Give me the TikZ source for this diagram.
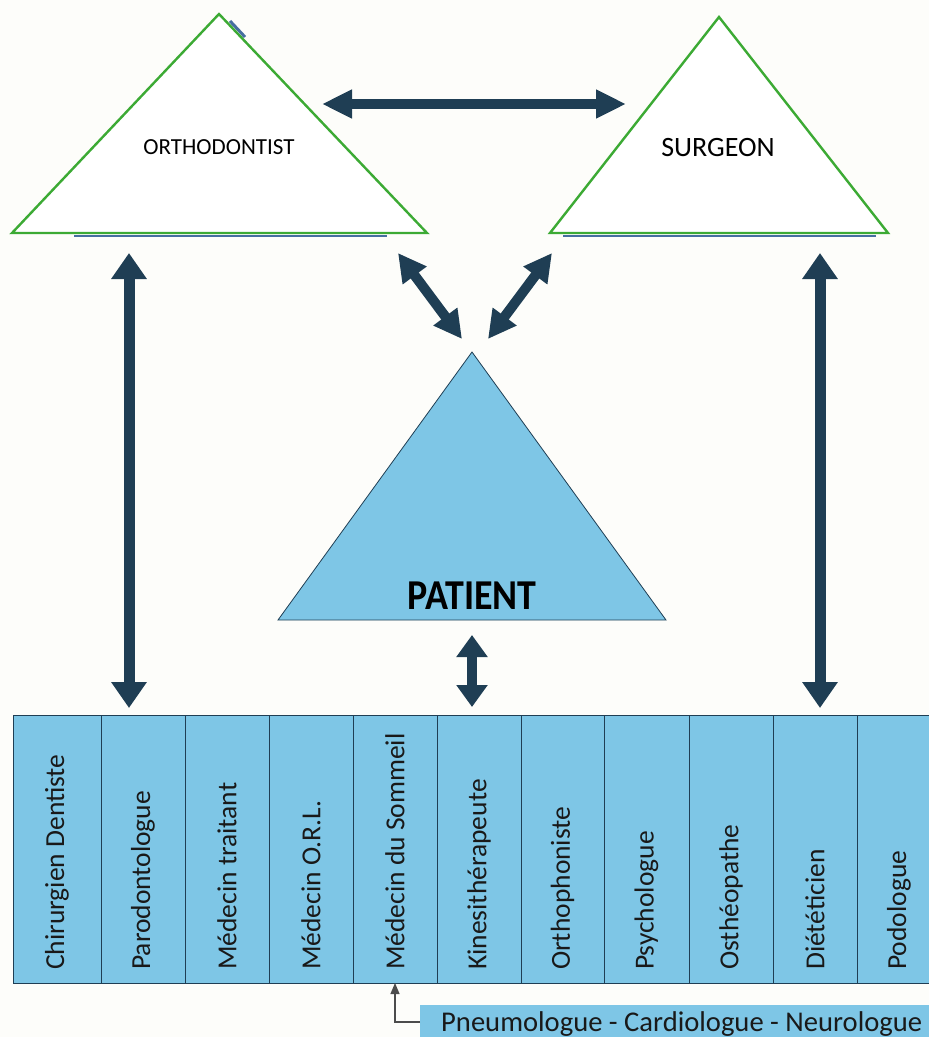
\documentclass[tikz,border=0pt]{standalone}
\usepackage{fontspec}
\setmainfont{Carlito}
\usetikzlibrary{arrows.meta}
\definecolor{bgc}{RGB}{253,253,250}
\definecolor{navy}{RGB}{31,62,84}
\definecolor{lblue}{RGB}{126,198,230}
\definecolor{tgreen}{RGB}{60,170,52}
\definecolor{sblue}{RGB}{70,110,160}
\tikzset{
  bigarrow/.style={navy, line width=11pt,
    arrows={Triangle[width=34pt,length=26pt]-Triangle[width=34pt,length=26pt]}},
  midarrow/.style={navy, line width=10pt,
    arrows={Triangle[width=28pt,length=28pt]-Triangle[width=28pt,length=28pt]}},
  tri/.style={fill=white, draw=tgreen, line width=2.4pt, line join=miter},
  cell/.style={fill=lblue, draw=navy, line width=0.8pt},
  celltext/.style={rotate=90, anchor=west, inner sep=0pt, font=\fontsize{27.5}{30}\selectfont, text=black!90},
}
\begin{document}
\begin{tikzpicture}[x=1pt,y=-1pt]
\fill[bgc] (0,0) rectangle (929,1037);
\useasboundingbox (0,0) rectangle (929,1037);

% shadows of top triangles
\draw[sblue, line width=1.8pt] (74,236) -- (387,236);
\draw[sblue, line width=3pt] (230,21) -- (245,37);
\draw[sblue, line width=1.8pt] (563,236) -- (876,236);

% top triangles
\draw[tri] (219,14) -- (427,233) -- (12,233) -- cycle;
\draw[tri] (719,17) -- (888,233) -- (550,233) -- cycle;
\node[font=\fontsize{23}{26}\selectfont] (ortho) at (219,147) {ORTHODONTIST};
\node[font=\fontsize{28}{30}\selectfont] (surg) at (718,148) {SURGEON};

% patient triangle
\draw[fill=lblue, draw=navy, line width=0.8pt] (472,352) -- (666,620) -- (278,620) -- cycle;
\node[font=\fontsize{38}{40}\bfseries\selectfont, anchor=base, yscale=1.12] (pat) at (472,609) {PATIENT};

% coordinates for arrows
\coordinate (hA) at (322,104);
\coordinate (hB) at (626,104);
\coordinate (lT) at (129,253);
\coordinate (lB) at (129,708);
\coordinate (rT) at (820,253);
\coordinate (rB) at (820,708);
\coordinate (d1a) at (398,253);
\coordinate (d1b) at (462,339);
\coordinate (d2a) at (552,253);
\coordinate (d2b) at (488,339);
\coordinate (pA) at (472,635);
\coordinate (pB) at (472,707);

\draw[midarrow, line width=10pt, arrows={Triangle[width=27pt,length=30pt]-Triangle[width=27pt,length=30pt]}] (hA) -- (hB);
\draw[bigarrow] (lT) -- (lB);
\draw[bigarrow] (rT) -- (rB);
\draw[midarrow] (d1a) -- (d1b);
\draw[midarrow] (d2a) -- (d2b);
\draw[navy, line width=10pt, arrows={Triangle[width=30pt,length=22pt]-Triangle[width=30pt,length=22pt]}] (pA) -- (pB);

% row of cells
\foreach \l/\r/\t [count=\i] in {13/101/Chirurgien Dentiste, 101/185/Parodontologue, 185/269/Médecin traitant, 269/353/Médecin O.R.L., 353/437/Médecin du Sommeil, 437/521/Kinesithérapeute, 521/604/Orthophoniste, 604/689/Psychologue, 689/773/Osthéopathe, 773/857/Diététicien, 857/941/Podologue}{
  \draw[cell] (\l,715) rectangle (\r,983);
  \node[celltext] (c\i) at ({(\l+\r)/2},970) {\t};
}

% bottom label
\fill[lblue] (420,1005) rectangle (929,1040);
\node[font=\fontsize{28.6}{30}\selectfont, anchor=base west, text=black!90, inner sep=0pt] (spec) at (441,1031) {Pneumologue - Cardiologue - Neurologue};
\coordinate (specL) at (420,1022);
\coordinate (somB) at (395,983);
\draw[black!70, line width=1.2pt, -{Triangle[width=9pt,length=11pt]}] (specL) -- (395,1022) -- (somB);
\end{tikzpicture}
\end{document}
